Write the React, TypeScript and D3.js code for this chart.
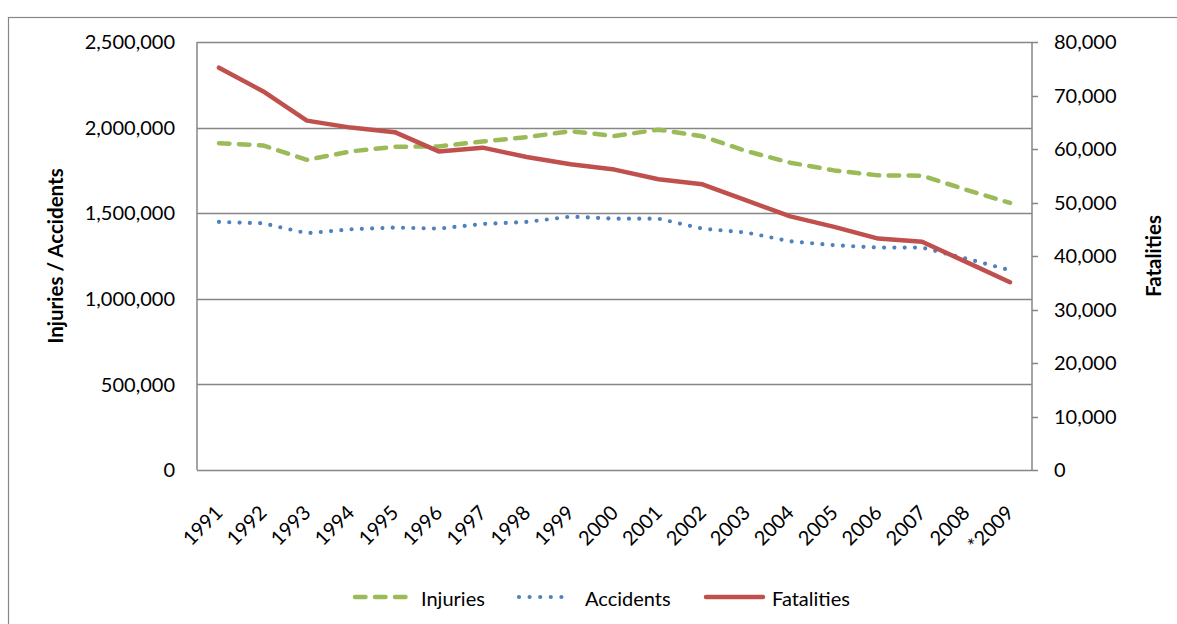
import React from "react";
import * as d3 from "d3";

const years = ["1991","1992","1993","1994","1995","1996","1997","1998","1999","2000","2001","2002","2003","2004","2005","2006","2007","2008","*2009"];
const injuries = [1909000,1896000,1812000,1861000,1888000,1890000,1919000,1944000,1979000,1951000,1988000,1949000,1863000,1795000,1750000,1721000,1719000,1637000,1560000];
const accidents = [1449000,1441000,1383000,1406000,1416000,1410000,1437000,1449000,1480000,1468000,1468000,1410000,1387000,1336000,1313000,1299000,1299000,1235000,1167000];
const fatalities = [75200,70800,65300,64000,63150,59550,60250,58500,57150,56150,54350,53400,50400,47400,45450,43250,42650,38900,35100];
const leftTicks = [0,500000,1000000,1500000,2000000,2500000];
const rightTicks = [0,10000,20000,30000,40000,50000,60000,70000,80000];

const FONT = "Lato, 'Open Sans', sans-serif";

export default function App() {
  const W = 1177, H = 624;
  const L = 197, R = 1032, T = 42, B = 470;
  const x = d3.scaleBand<string>().domain(years).range([L, R]);
  const xc = (i: number) => (x(years[i]) as number) + x.bandwidth() / 2;
  const yL = d3.scaleLinear().domain([0, 2500000]).range([B, T]);
  const yR = d3.scaleLinear().domain([0, 80000]).range([B, T]);
  const fmt = d3.format(",");
  const lineL = d3.line<number>().x((_, i) => xc(i)).y(d => yL(d));
  const lineR = d3.line<number>().x((_, i) => xc(i)).y(d => yR(d));
  const grey = "#868686";

  return (
    <svg width={W} height={H} style={{ position: "absolute", left: 0, top: 0 }} fontFamily={FONT}>
      <rect x={0} y={0} width={W} height={H} fill="#fff" />
      <rect x={8.5} y={17.5} width={1200} height={700} fill="none" stroke={grey} strokeWidth={1.2} />
      {leftTicks.map(t => (
        <line key={t} x1={L} x2={R} y1={Math.round(yL(t)) + 0.5} y2={Math.round(yL(t)) + 0.5} stroke={grey} strokeWidth={1.5} />
      ))}
      <line x1={L} x2={L} y1={T} y2={B} stroke={grey} strokeWidth={1.5} />
      <line x1={R} x2={R} y1={T} y2={B} stroke={grey} strokeWidth={1.5} />
      {rightTicks.map(t => (
        <line key={t} x1={R} x2={R + 6} y1={Math.round(yR(t)) + 0.5} y2={Math.round(yR(t)) + 0.5} stroke={grey} strokeWidth={1.5} />
      ))}
      {leftTicks.map(t => (
        <text key={t} x={175} y={yL(t)} dy="0.36em" textAnchor="end" fontSize={20} fill="#000">{fmt(t)}</text>
      ))}
      {rightTicks.map(t => (
        <text key={t} x={1054} y={yR(t)} dy="0.36em" textAnchor="start" fontSize={20} fill="#000">{fmt(t)}</text>
      ))}
      {years.map((yv, i) => (
        <text key={yv} transform={`translate(${xc(i) + 5},${B + 44}) rotate(-45)`} textAnchor="end" fontSize={20} fill="#000">{yv}</text>
      ))}
      <text transform={`translate(63,${(T + B) / 2}) rotate(-90)`} textAnchor="middle" fontSize={20.5} fontWeight="bold" fill="#000">Injuries / Accidents</text>
      <text transform={`translate(1161,${(T + B) / 2}) rotate(-90)`} textAnchor="middle" fontSize={20.5} fontWeight="bold" fill="#000">Fatalities</text>
      <path d={lineL(injuries) as string} fill="none" stroke="#9BBB59" strokeWidth={4.5} strokeDasharray="10.5 9.5" strokeLinecap="round" strokeLinejoin="round" />
      <path d={lineL(accidents) as string} fill="none" stroke="#4F81BD" strokeWidth={4.2} strokeDasharray="0 10.3" strokeLinecap="round" strokeLinejoin="round" />
      <path d={lineR(fatalities) as string} fill="none" stroke="#C0504D" strokeWidth={4.5} strokeLinecap="round" strokeLinejoin="round" />
      <line x1={355} x2={407} y1={597} y2={597} stroke="#9BBB59" strokeWidth={4.5} strokeDasharray="10.5 9.5" strokeLinecap="round" />
      <text x={421} y={599} dy="0.36em" fontSize={20} fill="#000">Injuries</text>
      <line x1={519} x2={572} y1={597} y2={597} stroke="#4F81BD" strokeWidth={4.2} strokeDasharray="0 10.6" strokeLinecap="round" />
      <text x={585} y={599} dy="0.36em" fontSize={20} fill="#000">Accidents</text>
      <line x1={706} x2={763} y1={597} y2={597} stroke="#C0504D" strokeWidth={4.5} strokeLinecap="round" />
      <text x={772} y={599} dy="0.36em" fontSize={20} fill="#000">Fatalities</text>
    </svg>
  );
}
